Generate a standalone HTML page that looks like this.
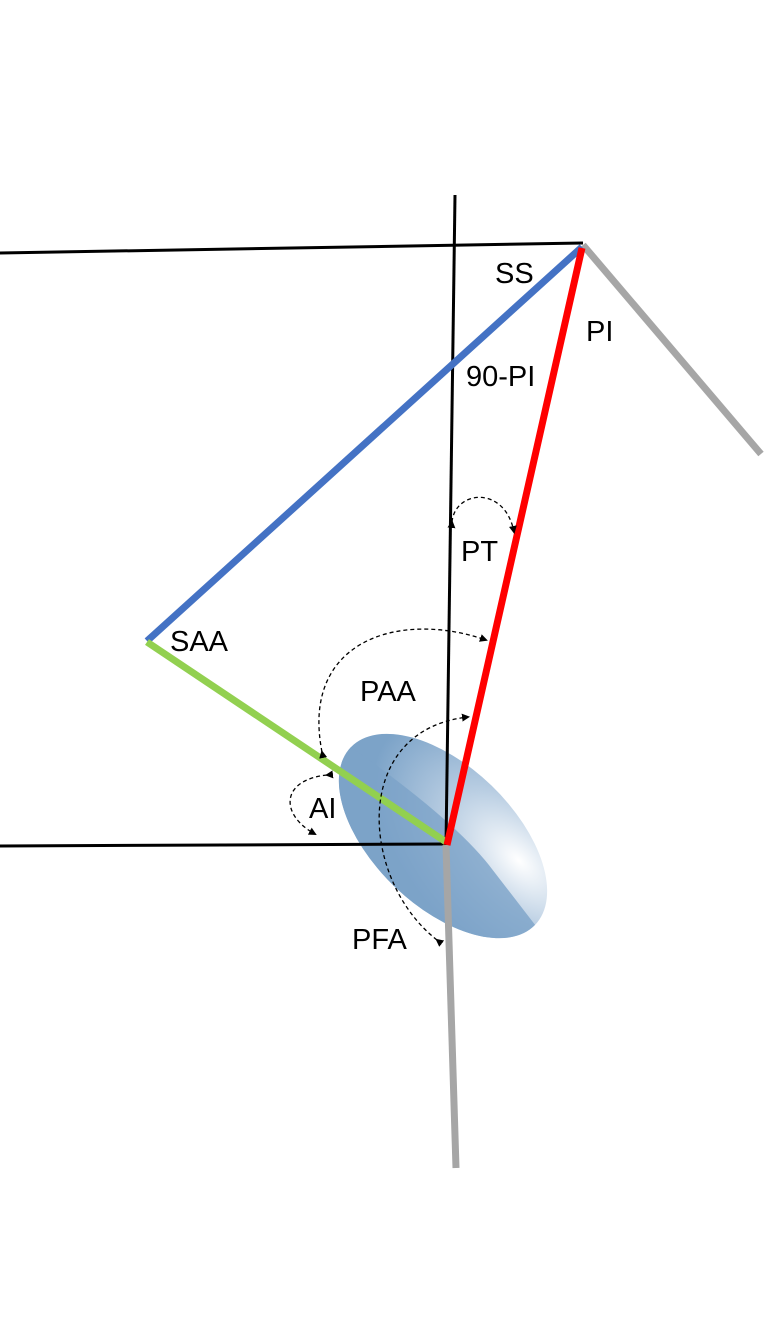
<!DOCTYPE html>
<html><head><style>body{margin:0;background:#fff}svg{display:block}text{font-family:"Liberation Sans",sans-serif;font-size:29px;fill:#000}</style></head><body>
<svg width="768" height="1344" viewBox="0 0 768 1344">
<defs>
<radialGradient id="g" cx="0.78" cy="0.25" r="0.7">
<stop offset="0" stop-color="#ffffff"/><stop offset="0.5" stop-color="#b8cde2"/><stop offset="1" stop-color="#7ca3c8"/></radialGradient>
<marker id="a" markerWidth="8" markerHeight="8" refX="6" refY="4" orient="auto" markerUnits="userSpaceOnUse"><path d="M0,0 L8,4 L0,8 z" fill="#000"/></marker>
</defs>
<g transform="translate(443,836) rotate(44)">
<ellipse cx="0" cy="0" rx="128" ry="70" fill="url(#g)"/>
<path d="M-128,0 A128,70 0 0 0 128,0 L60,-10 Q0,-20 -128,0z" fill="#7ca3c8" opacity="0.8"/>
</g>
<line x1="0" y1="253" x2="583" y2="243" stroke="#000" stroke-width="3"/>
<line x1="455" y1="195" x2="446" y2="845" stroke="#000" stroke-width="3"/>
<line x1="0" y1="846" x2="446" y2="844" stroke="#000" stroke-width="3"/>
<line x1="583" y1="245" x2="761" y2="454" stroke="#a6a6a6" stroke-width="7"/>
<line x1="446" y1="845" x2="456" y2="1168" stroke="#a6a6a6" stroke-width="7"/>
<line x1="147" y1="641" x2="582" y2="247" stroke="#4472c4" stroke-width="7"/>
<line x1="147" y1="642" x2="446" y2="842" stroke="#92d050" stroke-width="7"/>
<line x1="582" y1="248" x2="447" y2="845" stroke="#ff0000" stroke-width="7"/>
<g fill="none" stroke="#000" stroke-width="1.3" stroke-dasharray="4,3">
<path d="M452,522 C455,490 505,485 514,532" marker-start="url(#a)" marker-end="url(#a)"/>
<path d="M322,752 C300,640 400,610 486,640" marker-start="url(#a)" marker-end="url(#a)"/>
<path d="M437,940 C360,880 350,730 468,717" marker-start="url(#a)" marker-end="url(#a)"/>
<path d="M327,775 C280,780 280,815 315,834" marker-start="url(#a)" marker-end="url(#a)"/>
</g>
<text x="495" y="283">SS</text>
<text x="586" y="341">PI</text>
<text x="466" y="386">90-PI</text>
<text x="461" y="561">PT</text>
<text x="170" y="651">SAA</text>
<text x="360" y="701">PAA</text>
<text x="309" y="818">AI</text>
<text x="352" y="949">PFA</text>
</svg>
</body></html>
